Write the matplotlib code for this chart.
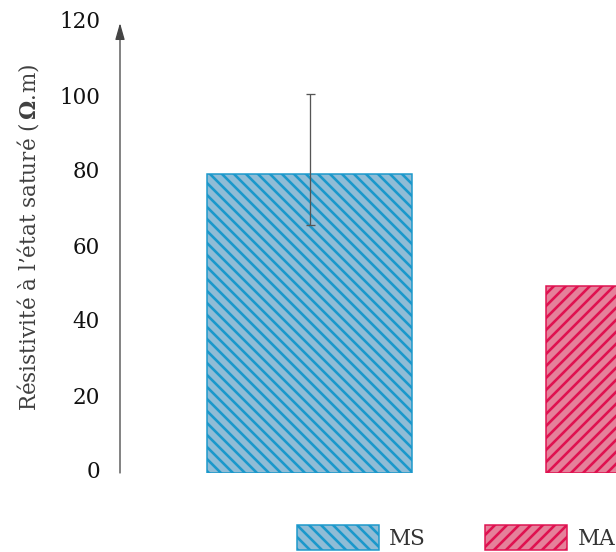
import matplotlib
matplotlib.use("Agg")
import matplotlib.pyplot as plt
from matplotlib.patches import Patch
from matplotlib.transforms import ScaledTranslation

categories = ["MS", "MA"]
values = [79.8, 50.0]
err_low = [13.6, 0.0]
err_high = [21.4, 0.0]
yticks = [0, 20, 40, 60, 80, 100, 120]
ylabel = r"$\mathrm{Résistivité\ à\ l’état\ saturé\ (}\,\mathbf{\Omega}.\!\mathrm{m)}$"

fills = ["#8fbcd6", "#e5809a"]
edges = ["#1b98cb", "#df1150"]
hatches = ["\\\\", "//"]

DPI = 72
plt.rcParams["font.family"] = ["DejaVu Serif"]
plt.rcParams["mathtext.fontset"] = "dejavuserif"
plt.rcParams["hatch.linewidth"] = 2.6

W, H = 616, 552
fig = plt.figure(figsize=(W / DPI, H / DPI), dpi=DPI)
x0, x1 = 120, 616
ybot, ytop = 473, 23
ax = fig.add_axes([x0 / W, (H - ybot) / H, (x1 - x0) / W, (ybot - ytop) / H])

xpos = list(range(len(categories)))
bars = ax.bar(xpos, values, width=0.605, color=fills, edgecolor=edges,
              linewidth=1.5, zorder=2)
for b, h in zip(bars, hatches):
    b.set_hatch(h)

ax.errorbar([xpos[0]], [values[0]], yerr=[[err_low[0]], [err_high[0]]],
            fmt="none", ecolor="#555555", elinewidth=1.3, capsize=4.5,
            capthick=1.3, zorder=3)

ax.set_xlim(-0.559, 0.904)
ax.set_ylim(0, 120)
ax.set_yticks(yticks)
ax.set_xticks([])
for s in ["top", "right", "bottom", "left"]:
    ax.spines[s].set_visible(False)
ax.tick_params(axis="y", length=0, pad=20, labelsize=21.5, labelcolor="#111111")
shift = ScaledTranslation(0, 3 / 72, fig.dpi_scale_trans)
for lab in ax.get_yticklabels():
    lab.set_transform(lab.get_transform() + shift)

ax.annotate("", xy=(0, 1.0), xytext=(0, 0), xycoords="axes fraction",
            textcoords="axes fraction",
            arrowprops=dict(arrowstyle="-|>,head_length=1.4,head_width=0.4",
                            color="#444444", lw=1.3, shrinkA=0, shrinkB=0),
            annotation_clip=False)

fig.text(28 / W, 1 - 237 / H, ylabel, rotation=90, ha="center", va="center",
         fontsize=21.5, color="#404040")

handles = [Patch(facecolor=f, edgecolor=e, hatch=h, linewidth=1.5)
           for f, e, h in zip(fills, edges, hatches)]
fig.legend(handles, categories, loc="lower left",
           bbox_to_anchor=(284 / W, -11 / H), ncol=2, frameon=False,
           fontsize=21.5, handlelength=3.8, handleheight=1.4,
           handletextpad=0.5, columnspacing=2.75, borderaxespad=0.2,
           labelcolor="#333333")

fig.savefig("out.png", dpi=DPI)
